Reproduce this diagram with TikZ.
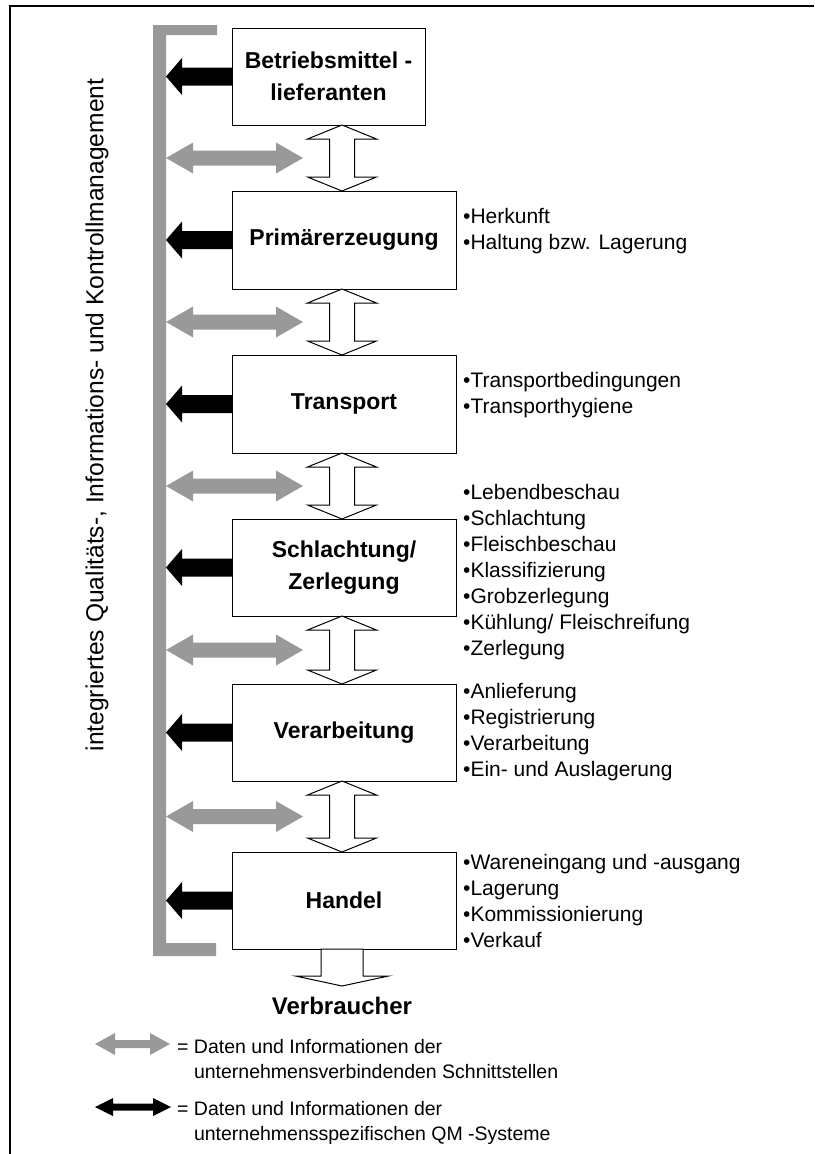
\documentclass[tikz,border=0pt]{standalone}
\usepackage{fontspec}
\setmainfont{Liberation Sans}
\usetikzlibrary{calc}
\definecolor{qmgray}{RGB}{153,153,153}
\begin{document}
\begin{tikzpicture}[x=1pt,y=-1pt,
  stage/.style={draw=black, line width=1pt, fill=white, minimum height=97pt,
    inner sep=0pt, outer sep=0pt, align=center,
    font=\fontsize{23}{32}\selectfont\bfseries},
  notes/.style={anchor=west, align=left, inner sep=0pt,
    font=\fontsize{21}{26}\selectfont},
  legendtext/.style={anchor=base west, align=left, inner sep=0pt,
    font=\fontsize{19.5}{25}\selectfont},
  % horizontal double arrow from left tip to right tip: shaft half, head half, head length
  twoway/.style n args={3}{to path={let \p1=(\tikztostart), \p2=(\tikztotarget) in
    -- (\x1+#3,\y1+#2) -- (\x1+#3,\y1+#1) -- (\x2-#3,\y2+#1) -- (\x2-#3,\y2+#2) -- (\x2,\y2)
    -- (\x2-#3,\y2-#2) -- (\x2-#3,\y2-#1) -- (\x1+#3,\y1-#1) -- (\x1+#3,\y1-#2) -- cycle}},
  % single arrow pointing left, from its tail to its tip
  tobar/.style n args={3}{to path={let \p1=(\tikztostart), \p2=(\tikztotarget) in
    -- (\x1,\y1+#1) -- (\x2+#3,\y1+#1) -- (\x2+#3,\y1+#2) -- (\x2,\y2)
    -- (\x2+#3,\y1-#2) -- (\x2+#3,\y1-#1) -- (\x1,\y1-#1) -- cycle}},
  % vertical double arrow from top tip to bottom tip
  vtwoway/.style n args={3}{to path={let \p1=(\tikztostart), \p2=(\tikztotarget) in
    -- (\x1+#2,\y1-#3) -- (\x1+#1,\y1-#3) -- (\x2+#1,\y2+#3) -- (\x2+#2,\y2+#3) -- (\x2,\y2)
    -- (\x2-#2,\y2+#3) -- (\x2-#1,\y2+#3) -- (\x1-#1,\y1-#3) -- (\x1-#2,\y1-#3) -- cycle}},
  % single arrow pointing down, from the top of its shaft to its tip
  vdown/.style n args={3}{to path={let \p1=(\tikztostart), \p2=(\tikztotarget) in
    -- (\x1+#1,\y1) -- (\x1+#1,\y2+#3) -- (\x1+#2,\y2+#3) -- (\x2,\y2)
    -- (\x1-#2,\y2+#3) -- (\x1-#1,\y2+#3) -- (\x1-#1,\y1) -- cycle}},
  flow/.style={draw=black, line width=1pt, fill=white, vtwoway={12.5pt}{34.5pt}{14pt}},
  exchange/.style={fill=qmgray, twoway={7.5pt}{15.5pt}{27pt}},
  internal/.style={fill=black, tobar={9pt}{18.5pt}{16pt}}
]
\useasboundingbox (0,0) rectangle (814,1154);

% frame
\draw[line width=2pt] (814,6) -- (10,6) -- (10,1154);

% management bracket
\fill[qmgray] (153,25) -- (217,25) -- (217,35) -- (166,35) -- (166,943)
  -- (216,943) -- (216,956) -- (153,956) -- cycle;
\coordinate (bar) at (166,0);
\coordinate (axis) at (342,0);
\coordinate (gate) at (303,0);

% vertical label
\node[rotate=90, font=\fontsize{24.6}{28}\selectfont] (qm) at (97,415)
  {integriertes Qualitäts-, Informations- und Kontrollmanagement};

% stages of the chain
\node[stage, minimum width=193pt] (b1) at (328.5,76.5) {Betriebsmittel -\\lieferanten};
\node[stage, minimum width=224pt, minimum height=98pt] (b2) at (344,240) {Primärerzeugung};
\node[stage, minimum width=224pt, minimum height=98pt] (b3) at (344,404) {Transport};
\node[stage, minimum width=224pt] (b4) at (344,567.5) {Schlachtung/\\Zerlegung};
\node[stage, minimum width=224pt] (b5) at (344,732.5) {Verarbeitung};
\node[stage, minimum width=224pt] (b6) at (344,900.5) {Handel};

% flow between stages
\draw[flow] (b1.south -| axis) to (b2.north -| axis);
\draw[flow] (b2.south -| axis) to (b3.north -| axis);
\draw[flow] (b3.south -| axis) to (b4.north -| axis);
\draw[flow] (b4.south -| axis) to (b5.north -| axis);
\draw[flow] (b5.south -| axis) to (b6.north -| axis);

% interface data (grey)
\coordinate (m1) at ($(b1.south)!0.5!(b2.north)$);
\coordinate (m2) at ($(b2.south)!0.5!(b3.north)$);
\coordinate (m3) at ($(b3.south)!0.5!(b4.north)$);
\coordinate (m4) at ($(b4.south)!0.5!(b5.north)$);
\coordinate (m5) at ($(b5.south)!0.5!(b6.north)$);
\fill[exchange] (m1 -| bar) to (m1 -| gate);
\fill[exchange] (m2 -| bar) to (m2 -| gate);
\fill[exchange] (m3 -| bar) to (m3 -| gate);
\fill[exchange] (m4 -| bar) to (m4 -| gate);
\fill[exchange] (m5 -| bar) to (m5 -| gate);

% company-specific QM data (black)
\fill[internal] (b1.west) to (b1.west -| bar);
\fill[internal] (b2.west) to (b2.west -| bar);
\fill[internal] (b3.west) to (b3.west -| bar);
\fill[internal] (b4.west) to (b4.west -| bar);
\fill[internal] (b5.west) to (b5.west -| bar);
\fill[internal] (b6.west) to (b6.west -| bar);

% consumer
\node[font=\fontsize{24}{28}\selectfont\bfseries, anchor=base] (cons) at (342,1014) {Verbraucher};
\coordinate (constip) at (342,986);
\draw[draw=black, line width=1pt, fill=white, vdown={21pt}{46.5pt}{10pt}] (b6.south -| axis) to (constip);

% stage details
\node[notes] (n2) at ([xshift=7pt,yshift=9pt]b2.east) {•Herkunft\\•Haltung bzw. Lagerung};
\node[notes] (n3) at ([xshift=7pt,yshift=9pt]b3.east) {•Transportbedingungen\\•Transporthygiene};
\node[notes] (n4) at ([xshift=7pt,yshift=-5pt]b4.east) {•Lebendbeschau\\•Schlachtung\\•Fleischbeschau\\•Klassifizierung\\•Grobzerlegung\\•Kühlung/ Fleischreifung\\•Zerlegung};
\node[notes] (n5) at ([xshift=7pt]b5.east) {•Anlieferung\\•Registrierung\\•Verarbeitung\\•Ein- und Auslagerung};
\node[notes] (n6) at ([xshift=7pt]b6.east) {•Wareneingang und -ausgang\\•Lagerung\\•Kommissionierung\\•Verkauf};

% legend
\coordinate (la1) at (95,1044);
\coordinate (lb1) at (170,1044);
\coordinate (la2) at (95,1107);
\coordinate (lb2) at (171,1107);
\fill[qmgray, twoway={4pt}{11pt}{20pt}] (la1) to (lb1);
\fill[black, twoway={3.5pt}{9pt}{18pt}] (la2) to (lb2);
\node[legendtext] (lt1) at (177,1078)
  {= Daten und Informationen der\\\hphantom{= }unternehmensverbindenden Schnittstellen};
\node[legendtext] (lt2) at (177,1140)
  {= Daten und Informationen der\\\hphantom{= }unternehmensspezifischen QM -Systeme};
\end{tikzpicture}
\end{document}
